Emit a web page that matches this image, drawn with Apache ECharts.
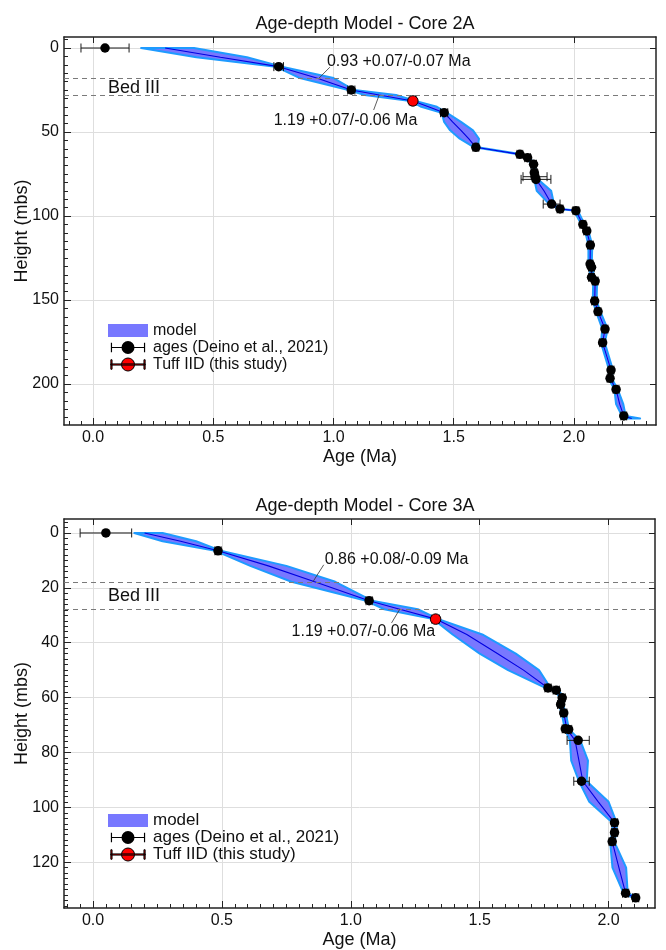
<!DOCTYPE html>
<html><head><meta charset="utf-8">
<script src="https://cdn.jsdelivr.net/npm/echarts@6/dist/echarts.min.js"></script>
<style>html,body{margin:0;padding:0;background:#fff}#c{width:666px;height:950px}</style>
</head><body><div id="c"></div>
<script>
// ---------------- Core 2A ----------------
const title2A = 'Age-depth Model - Core 2A';
const ageDepth2A = [0, 11.1, 25, 38.5, 59.1, 63.3, 65.3, 69.2, 74.2, 76.6, 78.2, 92.9, 95.8, 96.8, 105, 108.9, 117.3, 128.6, 130.5, 136.5, 138.7, 150.6, 156.9, 167.3, 175.4, 191.7, 196.6, 203.2, 219];
const ageValue2A = [0.05, 0.772, 1.074, 1.46, 1.592, 1.775, 1.807, 1.832, 1.835, 1.838, 1.842, 1.907, 1.942, 2.008, 2.037, 2.053, 2.068, 2.067, 2.073, 2.073, 2.088, 2.086, 2.1, 2.129, 2.119, 2.154, 2.15, 2.175, 2.207];
const ageErr2A = [0.1, 0.02, 0.015, 0.015, 0.012, 0.012, 0.012, 0.012, 0.012, 0.05, 0.062, 0.035, 0.012, 0.012, 0.012, 0.012, 0.012, 0.012, 0.012, 0.012, 0.012, 0.012, 0.012, 0.012, 0.012, 0.012, 0.012, 0.012, 0.012];
const tuffDepth2A = [31.5];
const tuffAge2A = [1.33];
const tuffErr2A = [0.015];
const modelDepth2A = [0, 5.5, 11.1, 17.9, 25, 28, 31.5, 35, 38.5, 44, 49, 54, 59.1, 63.3, 65.3, 69.2, 74.2, 78.2, 85, 92.9, 95.8, 96.8, 105, 108.9, 117.3, 128.6, 130.5, 136.5, 138.7, 150.6, 156.9, 167.3, 175.4, 191.7, 196.6, 203.2, 212, 219, 220.5];
const modelMed2A = [0.30, 0.53, 0.772, 0.93, 1.074, 1.19, 1.33, 1.395, 1.46, 1.495, 1.53, 1.562, 1.592, 1.775, 1.807, 1.832, 1.835, 1.842, 1.875, 1.907, 1.942, 2.008, 2.037, 2.053, 2.068, 2.067, 2.073, 2.073, 2.088, 2.086, 2.1, 2.129, 2.119, 2.154, 2.15, 2.175, 2.19, 2.207, 2.24];
const modelLo2A = [0.20, 0.43, 0.76, 0.86, 1.062, 1.13, 1.32, 1.365, 1.45, 1.46, 1.485, 1.525, 1.585, 1.768, 1.8, 1.825, 1.828, 1.835, 1.845, 1.897, 1.935, 2.0, 2.03, 2.046, 2.06, 2.06, 2.066, 2.066, 2.08, 2.078, 2.092, 2.118, 2.112, 2.146, 2.143, 2.168, 2.175, 2.2, 2.21];
const modelHi2A = [0.42, 0.64, 0.785, 1.00, 1.086, 1.26, 1.34, 1.43, 1.47, 1.53, 1.58, 1.605, 1.6, 1.782, 1.814, 1.839, 1.842, 1.85, 1.905, 1.917, 1.949, 2.016, 2.044, 2.06, 2.076, 2.074, 2.08, 2.08, 2.096, 2.094, 2.11, 2.14, 2.128, 2.162, 2.157, 2.182, 2.205, 2.215, 2.275];
const bedIII2A = [17.9, 28];
const xTicks2A = [0, 0.5, 1.0, 1.5, 2.0];
const yTicks2A = [0, 50, 100, 150, 200];

// ---------------- Core 3A ----------------
const title3A = 'Age-depth Model - Core 3A';
const ageDepth3A = [0, 6.5, 24.7, 56.5, 57.3, 60.1, 62.5, 65.6, 71.4, 71.6, 75.6, 90.5, 105.6, 109.2, 112.5, 131.3, 133];
const ageValue3A = [0.05, 0.485, 1.071, 1.765, 1.797, 1.82, 1.814, 1.826, 1.832, 1.845, 1.882, 1.895, 2.023, 2.023, 2.014, 2.066, 2.105];
const ageErr3A = [0.1, 0.012, 0.012, 0.012, 0.012, 0.012, 0.012, 0.012, 0.012, 0.012, 0.043, 0.03, 0.012, 0.012, 0.012, 0.012, 0.012];
const tuffDepth3A = [31.4];
const tuffAge3A = [1.329];
const tuffErr3A = [0.015];
const modelDepth3A = [0, 3, 6.5, 12, 17.8, 24.7, 27.8, 31.4, 37, 44, 50, 56.5, 57.3, 60.1, 62.5, 65.6, 71.5, 75.6, 83, 90.5, 98, 105.6, 109.2, 112.5, 122, 131.3, 133];
const modelMed3A = [0.20, 0.34, 0.485, 0.68, 0.86, 1.071, 1.19, 1.33, 1.45, 1.57, 1.67, 1.765, 1.797, 1.82, 1.814, 1.826, 1.838, 1.87, 1.885, 1.90, 1.96, 2.023, 2.023, 2.014, 2.04, 2.066, 2.105];
const modelLo3A = [0.16, 0.27, 0.475, 0.61, 0.77, 1.06, 1.13, 1.32, 1.395, 1.50, 1.61, 1.755, 1.79, 1.812, 1.806, 1.818, 1.83, 1.85, 1.855, 1.885, 1.925, 2.015, 2.015, 2.006, 2.015, 2.058, 2.095];
const modelHi3A = [0.27, 0.40, 0.495, 0.75, 0.94, 1.082, 1.26, 1.34, 1.51, 1.64, 1.73, 1.775, 1.805, 1.828, 1.822, 1.834, 1.846, 1.89, 1.92, 1.915, 2.0, 2.031, 2.031, 2.022, 2.068, 2.074, 2.115];
const bedIII3A = [17.8, 27.8];
const xTicks3A = [0, 0.5, 1.0, 1.5, 2.0];
const yTicks3A = [0, 20, 40, 60, 80, 100, 120];

const legendNames = ['model', 'ages (Deino et al., 2021)', 'Tuff IID (this study)'];

// ---------------- styles / layout ----------------
const FONT = '"Liberation Sans", Arial, sans-serif';
const BAND_FILL = '#7878ff', BAND_EDGE = '#1e9bff', MED = '#0000e0';
const FRAME = '#222', GRIDC = '#dedede', TXT = '#111';
const panels = [
  {title: title2A, grid: {left: 64, top: 37, width: 592, height: 388}, xr: [-0.1206, 2.341], yr: [-6.55, 224.4],
   xMinorStep: 0.05, yMinorStep: 5, titleTop: 10, legendTop: 322, legendFont: 16},
  {title: title3A, grid: {left: 64, top: 519, width: 591, height: 390}, xr: [-0.1125, 2.18], yr: [-5.09, 136.7],
   xMinorStep: 0.05, yMinorStep: 2, titleTop: 492, legendTop: 812, legendFont: 17}
];
const data = [
  {depth: ageDepth2A, age: ageValue2A, err: ageErr2A, tDepth: tuffDepth2A, tAge: tuffAge2A, tErr: tuffErr2A,
   mD: modelDepth2A, mM: modelMed2A, mL: modelLo2A, mH: modelHi2A, bed: bedIII2A, xt: xTicks2A, yt: yTicks2A},
  {depth: ageDepth3A, age: ageValue3A, err: ageErr3A, tDepth: tuffDepth3A, tAge: tuffAge3A, tErr: tuffErr3A,
   mD: modelDepth3A, mM: modelMed3A, mL: modelLo3A, mH: modelHi3A, bed: bedIII3A, xt: xTicks3A, yt: yTicks3A}
];

function minorTicks(min, max, step) {
  const out = [];
  const start = Math.ceil(min / step - 1e-9);
  for (let k = start; k * step <= max + 1e-9; k++) out.push(+(k * step).toFixed(4));
  return out;
}

const errIcon = 'path://M0,6L29,6L29,7L0,7Z M0,2.5L1,2.5L1,10.5L0,10.5Z M28,2.5L29,2.5L29,10.5L28,10.5Z M9,6.5A5.5,5.5,0,1,1,20,6.5A5.5,5.5,0,1,1,9,6.5Z';

const option = {
  backgroundColor: '#fff',
  animation: false,
  textStyle: {fontFamily: FONT},
  title: [], grid: [], xAxis: [], yAxis: [], series: [], legend: []
};

panels.forEach((p, g) => {
  const d = data[g];
  option.title.push({text: p.title, left: 360, top: p.titleTop, textAlign: 'center',
    textStyle: {fontFamily: FONT, fontSize: 18, fontWeight: 'normal', color: TXT}});
  option.grid.push(Object.assign({containLabel: false}, p.grid));
  const xb = {gridIndex: g, type: 'value', min: p.xr[0], max: p.xr[1]};
  const yb = {gridIndex: g, type: 'value', min: p.yr[0], max: p.yr[1], inverse: true};
  option.xAxis.push(Object.assign({}, xb, {position: 'bottom',
    axisLine: {show: true, onZero: false, lineStyle: {color: FRAME, width: 1.5}},
    axisTick: {show: true, inside: true, length: 7, customValues: d.xt, lineStyle: {color: FRAME}},
    axisLabel: {customValues: d.xt, formatter: v => v.toFixed(1), fontSize: 16, color: TXT, margin: 5, fontFamily: FONT},
    splitLine: {show: true, lineStyle: {color: GRIDC, width: 1}},
    name: 'Age (Ma)', nameLocation: 'middle', nameGap: 23, nameMoveOverlap: false,
    nameTextStyle: {fontSize: 18, color: TXT, fontFamily: FONT}}));
  option.xAxis.push(Object.assign({}, xb, {position: 'bottom',
    axisLine: {show: false, onZero: false},
    axisTick: {show: true, inside: true, length: 4, customValues: minorTicks(p.xr[0], p.xr[1], p.xMinorStep), lineStyle: {color: FRAME}},
    axisLabel: {show: false}, splitLine: {show: false}}));
  option.xAxis.push(Object.assign({}, xb, {position: 'top',
    axisLine: {show: true, onZero: false, lineStyle: {color: FRAME, width: 1.5}},
    axisTick: {show: true, inside: true, length: 6, customValues: d.xt, lineStyle: {color: FRAME}},
    axisLabel: {show: false}, splitLine: {show: false}}));
  option.yAxis.push(Object.assign({}, yb, {position: 'left',
    axisLine: {show: true, onZero: false, lineStyle: {color: FRAME, width: 1.5}},
    axisTick: {show: true, inside: true, length: 7, customValues: d.yt, lineStyle: {color: FRAME}},
    axisLabel: {customValues: d.yt, formatter: v => String(Math.round(v)), fontSize: 16, color: TXT, margin: 5, fontFamily: FONT},
    splitLine: {show: true, lineStyle: {color: GRIDC, width: 1}},
    name: 'Height (mbs)', nameLocation: 'middle', nameGap: 33, nameMoveOverlap: false,
    nameTextStyle: {fontSize: 18, color: TXT, fontFamily: FONT}}));
  option.yAxis.push(Object.assign({}, yb, {position: 'left',
    axisLine: {show: false, onZero: false},
    axisTick: {show: true, inside: true, length: 4, customValues: minorTicks(p.yr[0], p.yr[1], p.yMinorStep), lineStyle: {color: FRAME}},
    axisLabel: {show: false}, splitLine: {show: false}}));
  option.yAxis.push(Object.assign({}, yb, {position: 'right',
    axisLine: {show: true, onZero: false, lineStyle: {color: FRAME, width: 1.5}},
    axisTick: {show: true, inside: true, length: 6, customValues: d.yt, lineStyle: {color: FRAME}},
    axisLabel: {show: false}, splitLine: {show: false}}));

  const xi = g * 3, yi = g * 3;
  option.series.push({type: 'line', xAxisIndex: xi, yAxisIndex: yi, data: [], silent: true, z: 0,
    markLine: {silent: true, symbol: ['none', 'none'], animation: false, label: {show: false},
      lineStyle: {color: '#7a7a7a', type: [5, 4], width: 1},
      data: d.bed.map(v => ({yAxis: v}))}});
  option.series.push({type: 'custom', name: legendNames[0], xAxisIndex: xi, yAxisIndex: yi, z: 1, silent: true,
    itemStyle: {color: BAND_FILL},
    data: d.mD.map((v, i) => [d.mL[i], d.mH[i], v]),
    encode: {x: [0, 1], y: 2},
    renderItem: function (params, api) {
      if (params.dataIndex !== 0) return null;
      const pts = [];
      for (let i = 0; i < d.mD.length; i++) pts.push(api.coord([d.mL[i], d.mD[i]]));
      for (let i = d.mD.length - 1; i >= 0; i--) pts.push(api.coord([d.mH[i], d.mD[i]]));
      return {type: 'polygon', shape: {points: pts},
        style: {fill: BAND_FILL, stroke: BAND_EDGE, lineWidth: 2, lineJoin: 'round'}};
    }});
  option.series.push({type: 'line', xAxisIndex: xi, yAxisIndex: yi, z: 2, silent: true,
    data: d.mD.map((v, i) => [d.mM[i], v]), showSymbol: false, symbol: 'none',
    lineStyle: {color: MED, width: 1.1}});
  const errRender = function (params, api) {
    const y = api.value(2);
    const p1 = api.coord([api.value(0), y]), p2 = api.coord([api.value(1), y]);
    const h = 4.5, st = {stroke: '#1a1a1a', lineWidth: 1};
    return {type: 'group', children: [
      {type: 'line', shape: {x1: p1[0], y1: p1[1], x2: p2[0], y2: p2[1]}, style: st},
      {type: 'line', shape: {x1: p1[0], y1: p1[1] - h, x2: p1[0], y2: p1[1] + h}, style: st},
      {type: 'line', shape: {x1: p2[0], y1: p2[1] - h, x2: p2[0], y2: p2[1] + h}, style: st}
    ]};
  };
  option.series.push({type: 'custom', xAxisIndex: xi, yAxisIndex: yi, z: 3, silent: true,
    data: d.age.map((a, i) => [a - d.err[i], a + d.err[i], d.depth[i]]), encode: {x: [0, 1], y: 2}, renderItem: errRender});
  option.series.push({type: 'custom', xAxisIndex: xi, yAxisIndex: yi, z: 3, silent: true,
    data: d.tAge.map((a, i) => [a - d.tErr[i], a + d.tErr[i], d.tDepth[i]]), encode: {x: [0, 1], y: 2}, renderItem: errRender});
  option.series.push({type: 'scatter', name: legendNames[1], xAxisIndex: xi, yAxisIndex: yi, z: 4, silent: true,
    symbolSize: 9.5, itemStyle: {color: '#000', opacity: 1}, data: d.age.map((a, i) => [a, d.depth[i]])});
  option.series.push({type: 'scatter', name: legendNames[2], xAxisIndex: xi, yAxisIndex: yi, z: 5, silent: true,
    symbolSize: 10.5, itemStyle: {color: '#ff0000', borderColor: '#000', borderWidth: 1, opacity: 1},
    data: d.tAge.map((a, i) => [a, d.tDepth[i]])});

  option.legend.push({orient: 'vertical', left: 108, top: p.legendTop, itemWidth: 40, itemHeight: 13, itemGap: 0,
    selectedMode: false, padding: 0,
    textStyle: {fontSize: p.legendFont, color: TXT, lineHeight: 17, fontFamily: FONT},
    data: [
      {name: legendNames[0], icon: 'rect', itemStyle: {color: BAND_FILL, borderColor: BAND_FILL, borderWidth: 0, opacity: 1}},
      {name: legendNames[1], icon: errIcon, itemStyle: {color: '#000', opacity: 1}},
      {name: legendNames[2], icon: errIcon, itemStyle: {color: '#ff0000', borderColor: '#000', borderWidth: 1, opacity: 1}}
    ]});
});

const chart = echarts.init(document.getElementById('c'));
chart.setOption(option);

// annotations (anchored in data coordinates)
const annotations = [
  {g: 0, text: '0.93 +0.07/-0.07 Ma', anchor: [0.94, 17.9], end: [0.985, 11.4], dx: -3, dy: -6},
  {g: 0, text: '1.19 +0.07/-0.06 Ma', anchor: [1.19, 28], end: [1.167, 36.9], dx: -100, dy: 11},
  {g: 1, text: '0.86 +0.08/-0.09 Ma', anchor: [0.853, 17.8], end: [0.895, 11.6], dx: 1, dy: -5},
  {g: 1, text: '1.19 +0.07/-0.06 Ma', anchor: [1.19, 27.8], end: [1.158, 32.8], dx: -100, dy: 9}
];
const graphics = [];
annotations.forEach(a => {
  const fin = {xAxisIndex: a.g * 3, yAxisIndex: a.g * 3};
  const p0 = chart.convertToPixel(fin, a.anchor), p1 = chart.convertToPixel(fin, a.end);
  graphics.push({type: 'line', shape: {x1: p0[0], y1: p0[1], x2: p1[0], y2: p1[1]}, style: {stroke: '#333', lineWidth: 0.8}, z: 10});
  graphics.push({type: 'text', x: p1[0] + a.dx, y: p1[1] + a.dy, z: 10,
    style: {text: a.text, fontSize: 16, fontFamily: FONT, fill: TXT, verticalAlign: 'middle', align: 'left'}});
});
data.forEach((d, g) => {
  const fin = {xAxisIndex: g * 3, yAxisIndex: g * 3};
  const pa = chart.convertToPixel(fin, [0, d.bed[0]]), pb = chart.convertToPixel(fin, [0, d.bed[1]]);
  graphics.push({type: 'text', x: pa[0] + 15, y: (pa[1] + pb[1]) / 2 + 1, z: 10,
    style: {text: 'Bed III', fontSize: 18, fontFamily: FONT, fill: TXT, verticalAlign: 'middle', align: 'left'}});
});
chart.setOption({graphic: graphics});
</script>
</body></html>
